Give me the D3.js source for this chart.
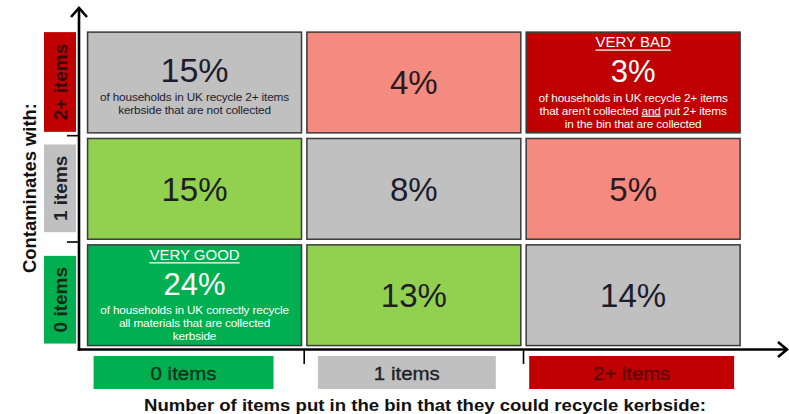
<!DOCTYPE html>
<html>
<head>
<meta charset="utf-8">
<script src="https://cdn.jsdelivr.net/npm/d3@7"></script>
<style>
  html, body { margin: 0; padding: 0; background: #fff; }
  svg { display: block; }
  text { font-family: "Liberation Sans", Arial, sans-serif; }
</style>
</head>
<body>
<svg id="chart" width="789" height="414"></svg>
<script>
// Number of recyclable items put in the bin (x) against contaminating items (y)
const putItems = ["0 items", "1 items", "2+ items"];
const contamItems = ["2+ items", "1 items", "0 items"]; // top to bottom

// Share of UK households (%) in each cell, one array per contamination row
const sharesContam2 = [15, 4, 3];
const sharesContam1 = [15, 8, 5];
const sharesContam0 = [24, 13, 14];

// Rating of each cell, per row
const ratingContam2 = ["neutral", "bad", "veryBad"];
const ratingContam1 = ["good", "neutral", "bad"];
const ratingContam0 = ["veryGood", "good", "neutral"];

// Headings and notes written inside some cells
const headingContam2 = ["", "", "VERY BAD"];
const headingContam0 = ["VERY GOOD", "", ""];
const notesContam2 = [
  ["of households in UK recycle 2+ items", "kerbside that are not collected"],
  [],
  ["of households in UK recycle 2+ items", "that aren't collected |and| put 2+ items", "in the bin that are collected"]
];
const notesContam1 = [[], [], []];
const notesContam0 = [
  ["of households in UK correctly recycle", "all materials that are collected", "kerbside"],
  [], []
];

const xTitle = "Number of items put in the bin that they could recycle kerbside:";
const yTitle = "Contaminates with:";

// Category colours
const ratingFill = {
  veryGood: "#00b050", good: "#92d050", neutral: "#c0c0c0",
  bad: "#f58b80", veryBad: "#c00000"
};
const ratingText = {
  veryGood: "#ffffff", good: "#1e1e24", neutral: "#1c1c2e",
  bad: "#2a1a1e", veryBad: "#ffffff"
};
const putFill = ["#00b050", "#c0c0c0", "#c00000"];
const putTextFill = ["#10301c", "#1e1e24", "#5a0a0a"];
const contamFill = ["#c00000", "#c0c0c0", "#00b050"];
const contamTextFill = ["#3a0808", "#1e1e24", "#0c2a14"];

const rowShares = [sharesContam2, sharesContam1, sharesContam0];
const rowRatings = [ratingContam2, ratingContam1, ratingContam0];
const rowHeadings = [headingContam2, ["", "", ""], headingContam0];
const rowNotes = [notesContam2, notesContam1, notesContam0];

const cells = [];
contamItems.forEach((r, i) => {
  putItems.forEach((c, j) => {
    cells.push({
      row: r, col: c, value: rowShares[i][j], rating: rowRatings[i][j],
      heading: rowHeadings[i][j], notes: rowNotes[i][j]
    });
  });
});

const svg = d3.select("#chart");

const x = d3.scaleBand().domain(putItems).range([84.9, 742.8])
  .paddingInner(0.0245).paddingOuter(0.01225);
const y = d3.scaleBand().domain(contamItems).range([29.3, 348.4])
  .paddingInner(0.053).paddingOuter(0.0265);

const axisX = 79, axisY = 349.5;

// Cells
const cellG = svg.append("g").selectAll("g.cell").data(cells).join("g").attr("class", "cell")
  .attr("transform", d => `translate(${x(d.col)},${y(d.row)})`);

cellG.append("rect")
  .attr("width", x.bandwidth()).attr("height", y.bandwidth())
  .attr("fill", d => ratingFill[d.rating])
  .attr("stroke", "#3a3a3a").attr("stroke-width", 1.5);

const bw = x.bandwidth(), bh = y.bandwidth();

cellG.each(function (d) {
  const sel = d3.select(this);
  const col = ratingText[d.rating];
  const cx = bw / 2;
  if (!d.heading && d.notes.length === 0) {
    sel.append("text").attr("x", cx).attr("y", bh / 2 + 12)
      .attr("text-anchor", "middle").attr("font-size", 33)
      .attr("fill", col).text(d.value + "%");
    return;
  }
  if (d.heading) {
    const h = sel.append("text").attr("x", cx).attr("y", 15)
      .attr("text-anchor", "middle").attr("font-size", 15)
      .attr("fill", col).text(d.heading);
    const w = h.node().getComputedTextLength();
    sel.append("line").attr("x1", cx - w / 2).attr("x2", cx + w / 2)
      .attr("y1", 18).attr("y2", 18).attr("stroke", col).attr("stroke-width", 1.2);
  }
  const top = 50;
  sel.append("text").attr("x", cx).attr("y", top)
    .attr("text-anchor", "middle").attr("font-size", d.heading ? 31 : 34)
    .attr("fill", col).text(d.value + "%");
  d.notes.forEach((line, k) => {
    const t = sel.append("text").attr("x", cx).attr("y", top + (d.heading ? 19.5 : 18.5) + k * 13)
      .attr("text-anchor", "middle").attr("font-size", 11.8)
      .attr("letter-spacing", -0.15)
      .attr("fill", col);
    line.split("|").forEach((part, p) => {
      const ts = t.append("tspan").text(part);
      if (p % 2 === 1) ts.attr("text-decoration", "underline");
    });
  });
});

// Row labels on the left
const rowInset = [[0, 1], [6, 7], [11, 2]];
const rowLab = svg.selectAll("g.rowlab").data(contamItems).join("g").attr("class", "rowlab");
rowLab.append("rect")
  .attr("x", 44).attr("width", 32)
  .attr("y", (d, i) => y(d) + rowInset[i][0])
  .attr("height", (d, i) => y.bandwidth() - rowInset[i][0] - rowInset[i][1])
  .attr("fill", (d, i) => contamFill[i]);
rowLab.append("text")
  .attr("transform", (d, i) => {
    const cy = y(d) + rowInset[i][0] + (y.bandwidth() - rowInset[i][0] - rowInset[i][1]) / 2;
    return `translate(67,${cy}) rotate(-90)`;
  })
  .attr("text-anchor", "middle").attr("font-size", 19).attr("font-weight", "bold")
  .attr("fill", (d, i) => contamTextFill[i]).text(d => d);

// Column labels below the x axis
const colInset = [[6, 28], [11, 25], [3, 6]];
const colLabelWidth = [66, 66, 77];
const colLab = svg.selectAll("g.collab").data(putItems).join("g").attr("class", "collab");
colLab.append("rect")
  .attr("x", (d, i) => x(d) + colInset[i][0])
  .attr("width", (d, i) => x.bandwidth() - colInset[i][0] - colInset[i][1])
  .attr("y", 356).attr("height", 33)
  .attr("fill", (d, i) => putFill[i]);
colLab.append("text")
  .attr("x", (d, i) => x(d) + colInset[i][0] + (x.bandwidth() - colInset[i][0] - colInset[i][1]) / 2)
  .attr("y", 380)
  .attr("text-anchor", "middle").attr("font-size", 19)
  .attr("textLength", (d, i) => colLabelWidth[i]).attr("lengthAdjust", "spacingAndGlyphs")
  .attr("stroke", (d, i) => putTextFill[i]).attr("stroke-width", 0.35)
  .attr("fill", (d, i) => putTextFill[i]).text(d => d);

// Axes with arrowheads
const axes = svg.append("g").attr("stroke", "#000").attr("fill", "none")
  .attr("stroke-width", 2.6).attr("stroke-linecap", "square");
axes.append("line").attr("x1", axisX).attr("x2", axisX).attr("y1", axisY).attr("y2", 9);
axes.append("line").attr("x1", axisX).attr("x2", 786).attr("y1", axisY).attr("y2", axisY);
axes.append("polyline").attr("points", `${axisX - 8},17 ${axisX},8 ${axisX + 8},17`)
  .attr("stroke-linejoin", "miter").attr("stroke-linecap", "butt");
axes.append("polyline").attr("points", `778,342 787,${axisY} 778,357`)
  .attr("stroke-linejoin", "miter").attr("stroke-linecap", "butt");

// Tick marks at the boundaries between categories
const xBounds = putItems.slice(1).map(d => x(d) - x.step() * x.paddingInner() / 2);
const yBounds = contamItems.slice(1).map(d => y(d) - y.step() * y.paddingInner() / 2);
svg.append("g").attr("stroke", "#000").attr("stroke-width", 1.6)
  .selectAll("line").data(xBounds).join("line")
  .attr("x1", d => d).attr("x2", d => d).attr("y1", axisY).attr("y2", 364);
svg.append("g").attr("stroke", "#000").attr("stroke-width", 1.6)
  .selectAll("line").data(yBounds).join("line")
  .attr("y1", d => d).attr("y2", d => d).attr("x1", 67).attr("x2", axisX);

// Axis titles
svg.append("text")
  .attr("x", 425).attr("y", 411).attr("text-anchor", "middle")
  .attr("font-size", 17).attr("font-weight", "bold")
  .attr("textLength", 562).attr("lengthAdjust", "spacingAndGlyphs")
  .attr("fill", "#111")
  .text(xTitle);
svg.append("text")
  .attr("transform", "translate(36,188) rotate(-90)")
  .attr("text-anchor", "middle").attr("font-size", 19)
  .attr("font-weight", "bold").attr("fill", "#111")
  .attr("textLength", 170).attr("lengthAdjust", "spacingAndGlyphs")
  .text(yTitle);
</script>
</body>
</html>
